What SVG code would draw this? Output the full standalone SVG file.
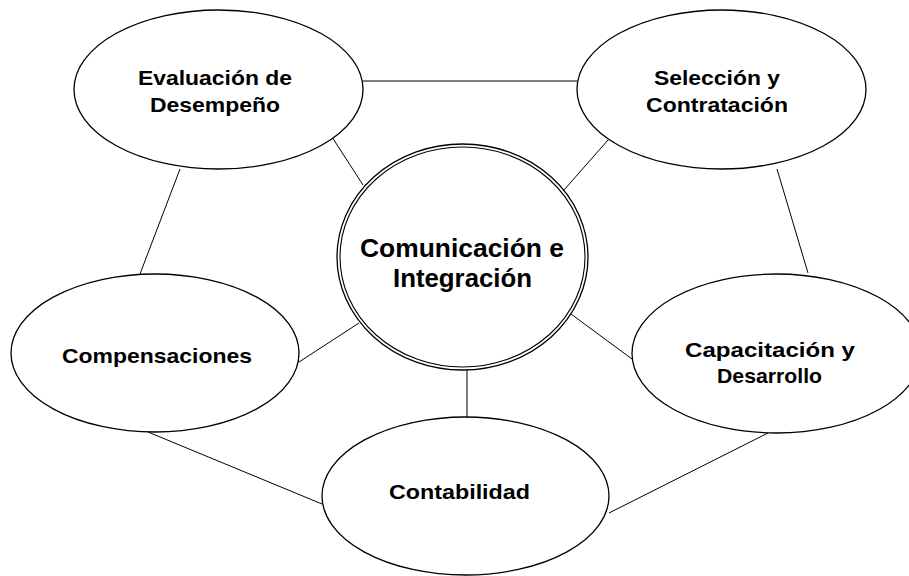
<svg xmlns="http://www.w3.org/2000/svg" width="909" height="576" viewBox="0 0 909 576">
<style>
.bg{fill:#ffffff}
.node{fill:#ffffff;stroke:#000000;stroke-width:1.3}
.ring{fill:none;stroke:#000000;stroke-width:1.1}
.conn{stroke:#000000;stroke-width:1;fill:none}
.lbl{font-family:"Liberation Sans",Arial,sans-serif;font-weight:bold;font-size:21px;fill:#000000;text-anchor:middle}
.big{font-size:26.5px}
</style>
<rect class="bg" x="0" y="0" width="909" height="576"/>
<g id="connectors">
<line class="conn" x1="363" y1="81" x2="577" y2="81"/>
<line class="conn" x1="332" y1="137" x2="363" y2="185"/>
<line class="conn" x1="608" y1="140" x2="564" y2="190"/>
<line class="conn" x1="777" y1="169" x2="808" y2="273"/>
<line class="conn" x1="180" y1="169" x2="140" y2="274"/>
<line class="conn" x1="299" y1="362" x2="359" y2="323"/>
<line class="conn" x1="571" y1="314" x2="632" y2="359"/>
<line class="conn" x1="467" y1="370" x2="467" y2="417"/>
<line class="conn" x1="148" y1="432" x2="322" y2="504"/>
<line class="conn" x1="609" y1="513" x2="768" y2="433"/>
</g>
<g id="node-evaluacion">
<ellipse class="node" cx="218.5" cy="89.5" rx="144.5" ry="79.5"/>
<text class="lbl" x="215" y="85" textLength="154" lengthAdjust="spacingAndGlyphs">Evaluación de</text>
<text class="lbl" x="215" y="112" textLength="130" lengthAdjust="spacingAndGlyphs">Desempeño</text>
</g>
<g id="node-seleccion">
<ellipse class="node" cx="721.5" cy="89.5" rx="144.5" ry="79.5"/>
<text class="lbl" x="717" y="85" textLength="126" lengthAdjust="spacingAndGlyphs">Selección y</text>
<text class="lbl" x="717" y="112" textLength="142" lengthAdjust="spacingAndGlyphs">Contratación</text>
</g>
<g id="node-capacitacion">
<ellipse class="node" cx="776.5" cy="353.5" rx="144.5" ry="79.5"/>
<text class="lbl" x="770" y="357" textLength="170" lengthAdjust="spacingAndGlyphs">Capacitación y</text>
<text class="lbl" x="769.5" y="383" textLength="105" lengthAdjust="spacingAndGlyphs">Desarrollo</text>
</g>
<g id="node-compensaciones">
<ellipse class="node" cx="155" cy="353" rx="144" ry="79"/>
<text class="lbl" x="157" y="363" textLength="190" lengthAdjust="spacingAndGlyphs">Compensaciones</text>
</g>
<g id="node-contabilidad">
<ellipse class="node" cx="465.5" cy="496" rx="143.5" ry="79"/>
<text class="lbl" x="459.5" y="499" textLength="141" lengthAdjust="spacingAndGlyphs">Contabilidad</text>
</g>
<g id="node-comunicacion">
<ellipse class="node" cx="462.5" cy="257" rx="125.5" ry="113"/>
<ellipse class="ring" cx="462.5" cy="257" rx="122.5" ry="110"/>
<text class="lbl big" x="462" y="257" textLength="204" lengthAdjust="spacingAndGlyphs">Comunicación e</text>
<text class="lbl big" x="462.5" y="287" textLength="139" lengthAdjust="spacingAndGlyphs">Integración</text>
</g>
</svg>
